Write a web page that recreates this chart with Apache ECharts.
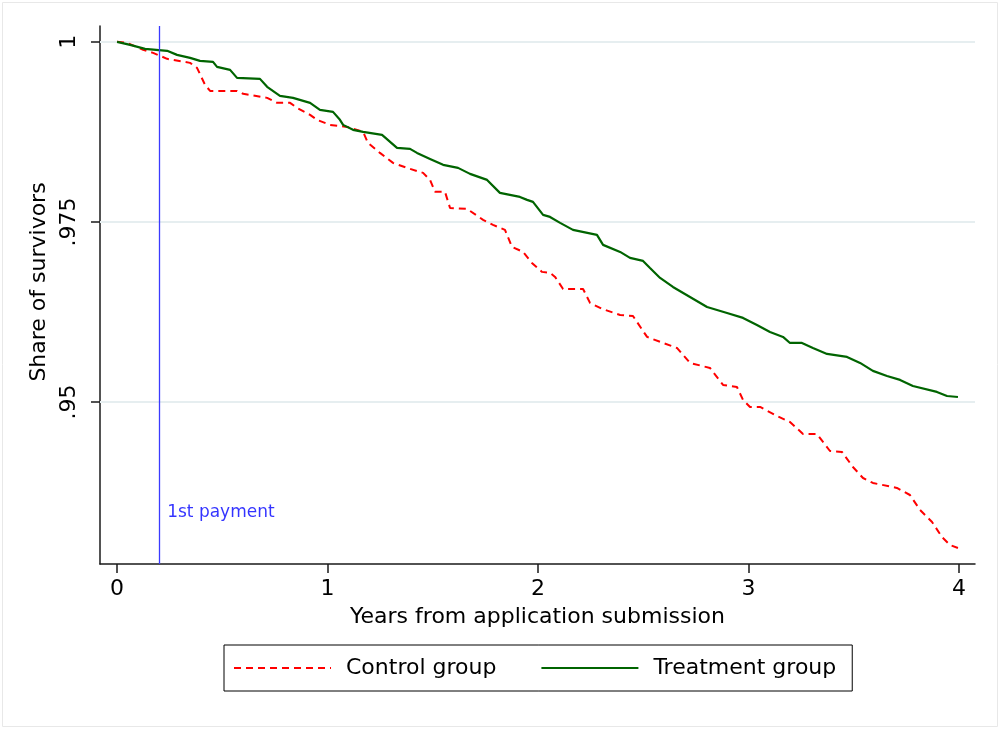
<!DOCTYPE html>
<html>
<head>
<meta charset="utf-8">
<script src="https://cdn.jsdelivr.net/npm/echarts@6/dist/echarts.min.js"></script>
<style>
html,body{margin:0;padding:0;background:#fff;}
#chart{width:1001px;height:729px;}
</style>
</head>
<body>
<div id="chart"></div>
<script>
// ---- data ----
const tTreat = [0,0.062,0.133,0.238,0.285,0.347,0.394,0.456,0.475,0.537,0.570,0.679,0.713,0.774,0.836,0.917,0.964,1.026,1.059,1.074,1.121,1.169,1.259,1.330,1.392,1.425,1.487,1.549,1.620,1.677,1.758,1.819,1.914,1.948,1.976,2.024,2.057,2.105,2.166,2.280,2.309,2.390,2.437,2.499,2.532,2.580,2.641,2.722,2.803,2.898,2.974,3.040,3.102,3.164,3.197,3.254,3.306,3.373,3.468,3.530,3.591,3.658,3.720,3.781,3.895,3.943,3.995];
const sTreat = [1.0,0.99958,0.99903,0.99875,0.99819,0.99778,0.99736,0.99722,0.99653,0.99611,0.99500,0.99486,0.99375,0.99250,0.99222,0.99153,0.99056,0.99028,0.98917,0.98847,0.98778,0.98750,0.98708,0.98528,0.98514,0.98458,0.98375,0.98292,0.98250,0.98167,0.98083,0.97903,0.97847,0.97806,0.97778,0.97597,0.97569,0.97486,0.97389,0.97319,0.97181,0.97083,0.97000,0.96958,0.96861,0.96722,0.96597,0.96458,0.96319,0.96236,0.96167,0.96069,0.95972,0.95903,0.95819,0.95819,0.95750,0.95667,0.95625,0.95542,0.95431,0.95361,0.95306,0.95222,0.95139,0.95083,0.95069];
const tControl = [0,0.048,0.124,0.171,0.238,0.347,0.380,0.418,0.442,0.570,0.599,0.713,0.760,0.822,0.855,0.917,0.950,1.012,1.093,1.169,1.192,1.249,1.311,1.392,1.454,1.487,1.511,1.558,1.582,1.663,1.739,1.786,1.843,1.876,1.929,1.971,2.019,2.057,2.081,2.119,2.214,2.247,2.304,2.390,2.451,2.518,2.594,2.660,2.722,2.817,2.879,2.945,2.974,3.007,3.055,3.135,3.197,3.259,3.325,3.387,3.444,3.496,3.544,3.591,3.705,3.767,3.815,3.872,3.919,3.957,3.995];
const sControl = [1.0,0.99986,0.99889,0.99847,0.99764,0.99708,0.99639,0.99403,0.99319,0.99319,0.99278,0.99222,0.99153,0.99153,0.99083,0.98986,0.98917,0.98847,0.98819,0.98750,0.98597,0.98458,0.98319,0.98236,0.98181,0.98083,0.97917,0.97917,0.97694,0.97681,0.97528,0.97458,0.97389,0.97153,0.97083,0.96931,0.96806,0.96792,0.96736,0.96569,0.96569,0.96375,0.96292,0.96208,0.96194,0.95903,0.95819,0.95750,0.95542,0.95472,0.95236,0.95208,0.95028,0.94931,0.94931,0.94806,0.94722,0.94556,0.94556,0.94319,0.94306,0.94097,0.93944,0.93875,0.93806,0.93708,0.93500,0.93333,0.93125,0.93014,0.92972];
const xTicks = [0,1,2,3,4];
const yTicks = [0.95,0.975,1];
const firstPayment = 0.2;
const seriesNames = ['Control group','Treatment group'];

const FONT = 'DejaVu Sans';
const zip = (a,b) => a.map((v,i)=>[v,b[i]]);
const chart = echarts.init(document.getElementById('chart'), null, {renderer:'canvas'});

chart.setOption({
  animation:false,
  backgroundColor:'#fff',
  textStyle:{fontFamily:FONT},
  graphic:[{type:'rect',shape:{x:2.5,y:2.5,width:995,height:724},style:{fill:'none',stroke:'#e8e8e8',lineWidth:1},silent:true,z:-10}],
  grid:{left:100,right:26,top:26,bottom:165,containLabel:false},
  xAxis:{
    type:'value',min:-0.081,max:4.076,
    name:'Years from application submission',nameLocation:'middle',nameGap:42,
    nameTextStyle:{fontFamily:FONT,fontSize:22,color:'#000'},
    axisLine:{show:true,onZero:false,lineStyle:{color:'#1a1a1a',width:1.5}},
    axisTick:{show:true,length:9,customValues:xTicks,lineStyle:{color:'#1a1a1a',width:1.5}},
    axisLabel:{customValues:xTicks,fontFamily:FONT,fontSize:22,color:'#000',margin:14,formatter:v=>String(v)},
    splitLine:{show:false}
  },
  yAxis:{
    type:'value',min:0.9275,max:1.0022,
    name:'Share of survivors',nameLocation:'middle',nameGap:50,nameRotate:90,
    nameTextStyle:{fontFamily:FONT,fontSize:22,color:'#000',padding:[0,0,0,26]},
    axisLine:{show:true,onZero:false,lineStyle:{color:'#1a1a1a',width:1.5}},
    axisTick:{show:true,length:9,customValues:yTicks,lineStyle:{color:'#1a1a1a',width:1.5}},
    axisLabel:{customValues:yTicks,rotate:90,fontFamily:FONT,fontSize:22,color:'#000',margin:20,
      formatter:v=>{ if (Math.abs(v-1)<1e-9) return '1'; return String(+v.toFixed(3)).replace(/^0/,''); }},
    splitLine:{show:false}
  },
  legend:{
    left:224,top:645,
    data:seriesNames,
    borderColor:'#000',borderWidth:1,
    padding:[12,16,12,9],
    itemWidth:97,itemHeight:14,itemGap:44,
    itemStyle:{opacity:0},
    textStyle:{fontFamily:FONT,fontSize:22,color:'#000',padding:[0,0,0,10]}
  },
  series:[
    {
      name:seriesNames[0], type:'line', data:zip(tControl,sControl), showSymbol:false, symbol:'none', z:3,
      lineStyle:{color:'#ff0000',width:2,type:[7,5]}, itemStyle:{color:'#ff0000'},
      markLine:{silent:true,symbol:'none',animation:false,z:1,precision:4,label:{show:false},
        lineStyle:{color:'#e6eef0',width:2,type:'solid'},
        data:yTicks.map(v=>({yAxis:v}))}
    },
    {
      name:seriesNames[1], type:'line', data:zip(tTreat,sTreat), showSymbol:false, symbol:'none', z:4,
      lineStyle:{color:'#006400',width:2.2,type:'solid'}, itemStyle:{color:'#006400'}
    },
    {
      name:'payment', type:'scatter', data:[[firstPayment,0.9346]], symbolSize:0, silent:true, z:5,
      label:{show:true,position:'right',distance:8,formatter:'1st payment',fontFamily:FONT,fontSize:17,color:'#0000ff'},
      markLine:{silent:true,symbol:'none',animation:false,precision:4,label:{show:false},
        lineStyle:{color:'#3a3aff',width:1.3,type:'solid'},
        data:[{xAxis:firstPayment}]}
    }
  ]
});
</script>
</body>
</html>
